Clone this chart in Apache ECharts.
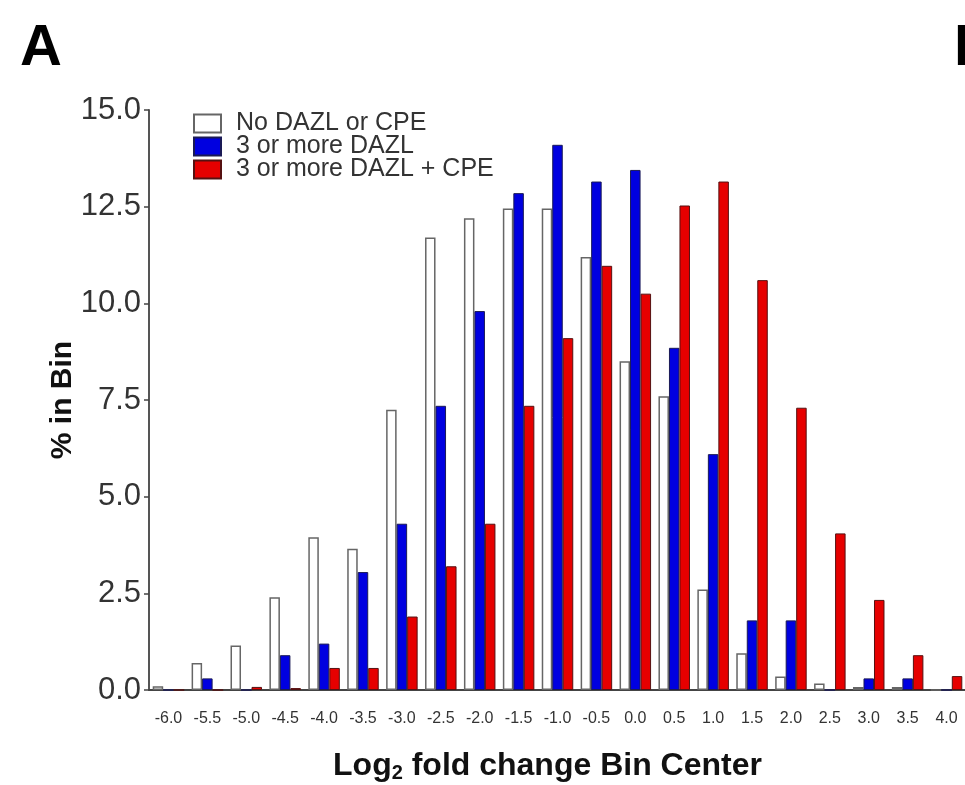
<!DOCTYPE html>
<html>
<head>
<meta charset="utf-8">
<script src="https://cdn.jsdelivr.net/npm/echarts@6/dist/echarts.min.js"></script>
<style>
html,body{margin:0;padding:0;background:#fff;}
#chart{width:965px;height:785px;}
</style>
</head>
<body>
<div id="chart"></div>
<script>
var categories = ['-6.0','-5.5','-5.0','-4.5','-4.0','-3.5','-3.0','-2.5','-2.0','-1.5','-1.0','-0.5','0.0','0.5','1.0','1.5','2.0','2.5','3.0','3.5','4.0'];
var seriesNames = ['No DAZL or CPE','3 or more DAZL','3 or more DAZL + CPE'];
var noDazlOrCpe = [0.1,0.7,1.15,2.4,3.95,3.65,7.25,11.7,12.2,12.45,12.45,11.2,8.5,7.6,2.6,0.95,0.35,0.17,0.08,0.08,0];
var dazl3 = [0,0.3,0,0.9,1.2,3.05,4.3,7.35,9.8,12.85,14.1,13.15,13.45,8.85,6.1,1.8,1.8,0,0.3,0.3,0];
var dazl3Cpe = [0,0,0.08,0.05,0.57,0.57,1.9,3.2,4.3,7.35,9.1,10.97,10.25,12.53,13.15,10.6,7.3,4.05,2.33,0.9,0.36];

var FONT = 'Liberation Sans';
var chart = echarts.init(document.getElementById('chart'), null, {renderer:'canvas'});
chart.setOption({
  backgroundColor:'#fff',
  animation:false,
  title:[
    {text:'A', left:20, top:20, padding:0, textStyle:{fontSize:58, fontWeight:'bold', fontFamily:FONT, color:'#000'}},
    {text:'B', left:954, top:20, padding:0, textStyle:{fontSize:58, fontWeight:'bold', fontFamily:FONT, color:'#000'}}
  ],
  legend:{
    orient:'vertical', left:193, top:111, padding:0, itemWidth:27, itemHeight:18, itemGap:-2,
    icon:'rect',
    data:seriesNames,
    textStyle:{fontSize:25, fontFamily:FONT, color:'#333', lineHeight:21, padding:[0,0,0,10]}
  },
  grid:{left:149, top:110, width:817, height:580, containLabel:false, outerBoundsMode:'none'},
  xAxis:{
    type:'category', data:categories,
    axisLine:{lineStyle:{color:'#444', width:2}},
    axisTick:{alignWithLabel:true, length:5, lineStyle:{color:'#333', width:1.5}},
    axisLabel:{fontSize:16, fontFamily:FONT, color:'#333', margin:21, interval:0},
    name:'{a|Log}{s|2}{a| fold change Bin Center}',
    nameLocation:'middle', nameGap:59, nameMoveOverlap:false,
    nameTextStyle:{
      padding:[0,20,0,0],
      rich:{
        a:{fontSize:32, fontWeight:'bold', fontFamily:FONT, color:'#111'},
        s:{fontSize:20, fontWeight:'bold', fontFamily:FONT, color:'#111', verticalAlign:'bottom', padding:[14,0,0,0]}
      }
    }
  },
  yAxis:{
    type:'value', min:0, max:15, interval:2.5,
    axisLine:{show:true, lineStyle:{color:'#555', width:2}},
    axisTick:{show:true, length:5, lineStyle:{color:'#444', width:1.5}},
    splitLine:{show:false},
    axisLabel:{fontSize:31, fontFamily:FONT, color:'#333', margin:8, formatter:function(v){return v.toFixed(1);}},
    name:'% in Bin', nameLocation:'middle', nameGap:71, nameRotate:90, nameMoveOverlap:false,
    nameTextStyle:{fontSize:30, fontWeight:'bold', fontFamily:FONT, color:'#111'}
  },
  series:[
    {name:seriesNames[0], type:'bar', data:noDazlOrCpe, barGap:'0%', barCategoryGap:'19%',
     itemStyle:{color:'#ffffff', borderColor:'#666', borderWidth:1.5}},
    {name:seriesNames[1], type:'bar', data:dazl3, barGap:'0%', barCategoryGap:'19%',
     itemStyle:{color:'#0000e0', borderColor:'#1a1a55', borderWidth:1}},
    {name:seriesNames[2], type:'bar', data:dazl3Cpe, barGap:'0%', barCategoryGap:'19%',
     itemStyle:{color:'#e60000', borderColor:'#551111', borderWidth:1}}
  ]
});
</script>
</body>
</html>
